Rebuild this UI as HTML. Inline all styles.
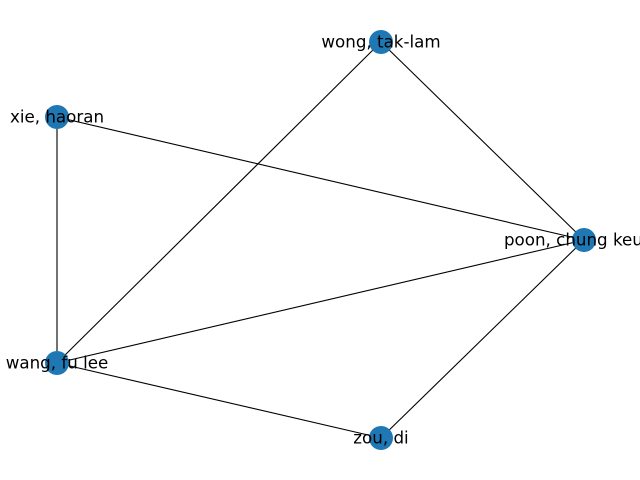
<!DOCTYPE html>
<html><head><meta charset="utf-8"><style>
html,body{margin:0;padding:0;background:#fff;width:640px;height:480px;overflow:hidden}
</style></head><body>
<svg width="640" height="480" viewBox="0 0 640 480" xmlns="http://www.w3.org/2000/svg">
<g stroke="#000" stroke-width="1.1">
<line x1="57" y1="117" x2="57" y2="363"/>
<line x1="57" y1="117" x2="584" y2="240"/>
<line x1="381" y1="42" x2="57" y2="363"/>
<line x1="381" y1="42" x2="584" y2="240"/>
<line x1="57" y1="363" x2="584" y2="240"/>
<line x1="57" y1="363" x2="381" y2="438"/>
<line x1="381" y1="438" x2="584" y2="240"/>
</g>
<g fill="#1f77b4">
<circle cx="381" cy="42" r="12"/>
<circle cx="57" cy="117" r="12"/>
<circle cx="584" cy="240" r="12"/>
<circle cx="57" cy="363" r="12"/>
<circle cx="381" cy="438" r="12"/>
</g>
<g text-anchor="middle" font-family="DejaVu Sans, Liberation Sans, sans-serif" font-size="16.7" fill="#000">
<text x="381" y="47.5">wong, tak-lam</text>
<text x="57" y="122.5">xie, haoran</text>
<text x="584" y="245.5">poon, chung keung</text>
<text x="57" y="368.5">wang, fu lee</text>
<text x="381" y="443.5">zou, di</text>
</g>
</svg>
</body></html>
